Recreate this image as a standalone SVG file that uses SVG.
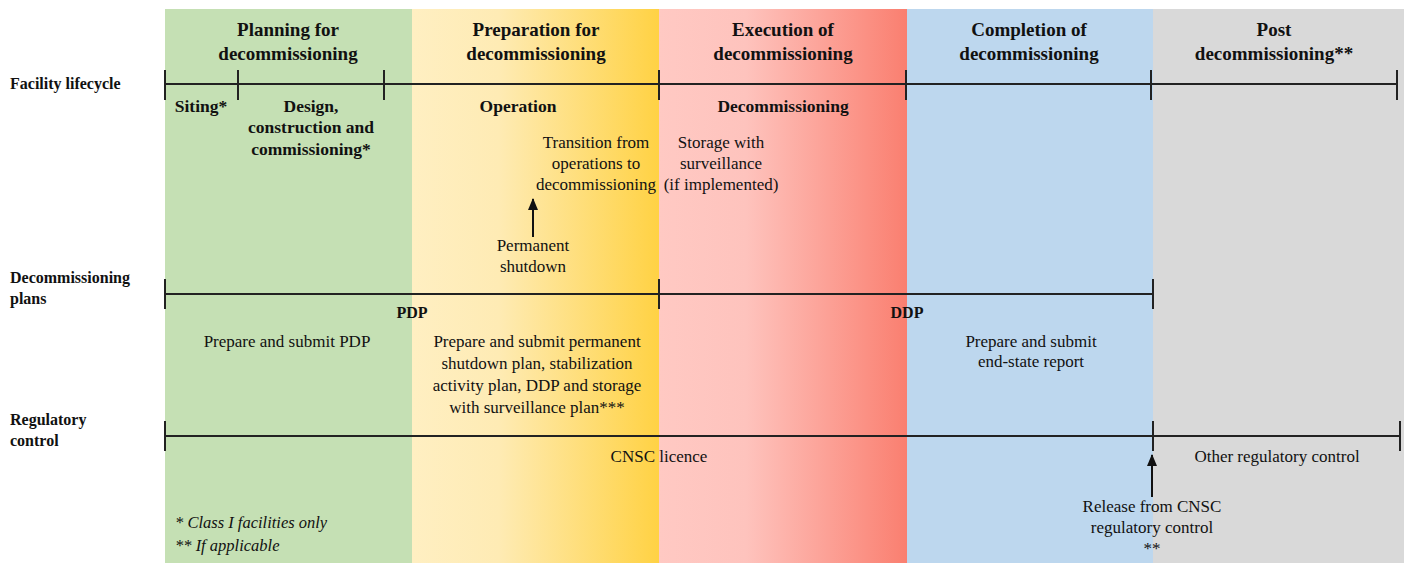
<svg xmlns="http://www.w3.org/2000/svg" width="1404" height="563" viewBox="0 0 1404 563">
  <defs>
    <linearGradient id="gradPrep" x1="0" y1="0" x2="1" y2="0">
      <stop offset="0" stop-color="#FFEFC2"/>
      <stop offset="0.35" stop-color="#FEEBB4"/>
      <stop offset="1" stop-color="#FFD244"/>
    </linearGradient>
    <linearGradient id="gradExec" x1="0" y1="0" x2="1" y2="0">
      <stop offset="0" stop-color="#FFC9C3"/>
      <stop offset="0.35" stop-color="#FEC3BD"/>
      <stop offset="1" stop-color="#FA7F70"/>
    </linearGradient>
    <marker id="arrowHead" viewBox="0 0 12 10" refX="11" refY="5" markerWidth="12" markerHeight="10" markerUnits="userSpaceOnUse" orient="auto">
      <path d="M0,0 L12,5 L0,10 Z" fill="#111"/>
    </marker>
    <style>
      text { font-family: "Liberation Serif", Tinos, "Times New Roman", "DejaVu Serif", serif; fill: #111; }
      .hdr { font-size: 19px; font-weight: bold; text-anchor: middle; }
      .sub { font-size: 17.5px; font-weight: bold; text-anchor: middle; }
      .row { font-size: 16px; font-weight: bold; }
      .txt { font-size: 17px; text-anchor: middle; }
      .plan { font-size: 16px; font-weight: bold; text-anchor: middle; }
      .note { font-size: 16.5px; font-style: italic; }
      .axis { stroke: #222; stroke-width: 2; fill: none; }
      .tick { stroke: #222; stroke-width: 2; }
      .arrow { stroke: #111; stroke-width: 2; fill: none; }
    </style>
  </defs>

  <rect width="1404" height="563" fill="#FFFFFF"/>

  <!-- Phase columns -->
  <g id="phase-planning">
    <rect x="165" y="9" width="247" height="554" fill="#C5E0B4"/>
    <text class="hdr" x="288" y="36">Planning for</text>
    <text class="hdr" x="288" y="60">decommissioning</text>
  </g>
  <g id="phase-preparation">
    <rect x="412" y="9" width="247" height="554" fill="url(#gradPrep)"/>
    <text class="hdr" x="536" y="36">Preparation for</text>
    <text class="hdr" x="536" y="60">decommissioning</text>
  </g>
  <g id="phase-execution">
    <rect x="659" y="9" width="248" height="554" fill="url(#gradExec)"/>
    <text class="hdr" x="783" y="36">Execution of</text>
    <text class="hdr" x="783" y="60">decommissioning</text>
  </g>
  <g id="phase-completion">
    <rect x="907" y="9" width="246" height="554" fill="#BDD7EE"/>
    <text class="hdr" x="1029" y="36">Completion of</text>
    <text class="hdr" x="1029" y="60">decommissioning</text>
  </g>
  <g id="phase-post">
    <rect x="1153" y="9" width="251" height="554" fill="#D9D9D9"/>
    <text class="hdr" x="1274" y="36">Post</text>
    <text class="hdr" x="1274" y="60">decommissioning**</text>
  </g>

  <!-- Row labels -->
  <g id="row-lifecycle">
    <text class="row" x="10" y="89">Facility lifecycle</text>
  </g>
  <g id="row-plans">
    <text class="row" x="10" y="283">Decommissioning</text>
    <text class="row" x="10" y="304">plans</text>
  </g>
  <g id="row-regulatory">
    <text class="row" x="10" y="425">Regulatory</text>
    <text class="row" x="10" y="446">control</text>
  </g>

  <!-- Timelines and arrows -->
  <g id="connectors">
    <line class="axis" x1="165" y1="84" x2="1397" y2="84"/>
    <line class="tick" x1="165" y1="70" x2="165" y2="100"/>
    <line class="tick" x1="238" y1="70" x2="238" y2="100"/>
    <line class="tick" x1="384" y1="70" x2="384" y2="100"/>
    <line class="tick" x1="659" y1="70" x2="659" y2="100"/>
    <line class="tick" x1="906" y1="70" x2="906" y2="100"/>
    <line class="tick" x1="1151" y1="70" x2="1151" y2="100"/>
    <line class="tick" x1="1397" y1="70" x2="1397" y2="100"/>

    <line class="axis" x1="165" y1="294" x2="1153" y2="294"/>
    <line class="tick" x1="165" y1="279" x2="165" y2="309"/>
    <line class="tick" x1="659" y1="279" x2="659" y2="309"/>
    <line class="tick" x1="1153" y1="279" x2="1153" y2="309"/>

    <line class="axis" x1="165" y1="436" x2="1400" y2="436"/>
    <line class="tick" x1="165" y1="421" x2="165" y2="451"/>
    <line class="tick" x1="1153" y1="421" x2="1153" y2="451"/>
    <line class="tick" x1="1400" y1="421" x2="1400" y2="451"/>

    <line class="arrow" x1="533" y1="237" x2="533" y2="199" marker-end="url(#arrowHead)"/>
    <line class="arrow" x1="1152" y1="497" x2="1152" y2="455" marker-end="url(#arrowHead)"/>
  </g>

  <!-- Facility lifecycle stages -->
  <g id="stage-siting">
    <text class="sub" x="201" y="112">Siting*</text>
  </g>
  <g id="stage-design">
    <text class="sub" x="311" y="112">Design,</text>
    <text class="sub" x="311" y="133">construction and</text>
    <text class="sub" x="311" y="155">commissioning*</text>
  </g>
  <g id="stage-operation">
    <text class="sub" x="518" y="112">Operation</text>
  </g>
  <g id="stage-decommissioning">
    <text class="sub" x="783" y="112">Decommissioning</text>
  </g>
  <g id="transition">
    <text class="txt" x="596" y="148">Transition from</text>
    <text class="txt" x="596" y="169">operations to</text>
    <text class="txt" x="596" y="190">decommissioning</text>
  </g>
  <g id="storage">
    <text class="txt" x="721" y="148">Storage with</text>
    <text class="txt" x="721" y="169">surveillance</text>
    <text class="txt" x="721" y="190">(if implemented)</text>
  </g>
  <g id="permanent-shutdown">
    <text class="txt" x="533" y="251">Permanent</text>
    <text class="txt" x="533" y="272">shutdown</text>
  </g>

  <!-- Decommissioning plans -->
  <g id="plan-pdp">
    <text class="plan" x="412" y="318">PDP</text>
  </g>
  <g id="plan-ddp">
    <text class="plan" x="907" y="318">DDP</text>
  </g>
  <g id="submit-pdp">
    <text class="txt" x="287" y="347">Prepare and submit PDP</text>
  </g>
  <g id="submit-shutdown-plans">
    <text class="txt" x="537" y="347">Prepare and submit permanent</text>
    <text class="txt" x="537" y="369">shutdown plan, stabilization</text>
    <text class="txt" x="537" y="391">activity plan, DDP and storage</text>
    <text class="txt" x="537" y="413">with surveillance plan***</text>
  </g>
  <g id="submit-end-state">
    <text class="txt" x="1031" y="347">Prepare and submit</text>
    <text class="txt" x="1031" y="367">end-state report</text>
  </g>

  <!-- Regulatory control -->
  <g id="cnsc-licence">
    <text class="txt" x="659" y="462">CNSC licence</text>
  </g>
  <g id="other-control">
    <text class="txt" x="1277" y="462">Other regulatory control</text>
  </g>
  <g id="release">
    <text class="txt" x="1152" y="512">Release from CNSC</text>
    <text class="txt" x="1152" y="533">regulatory control</text>
    <text class="txt" x="1152" y="554">**</text>
  </g>

  <!-- Footnotes -->
  <g id="footnotes">
    <text class="note" x="175" y="528">* Class I facilities only</text>
    <text class="note" x="175" y="551">** If applicable</text>
  </g>
</svg>
